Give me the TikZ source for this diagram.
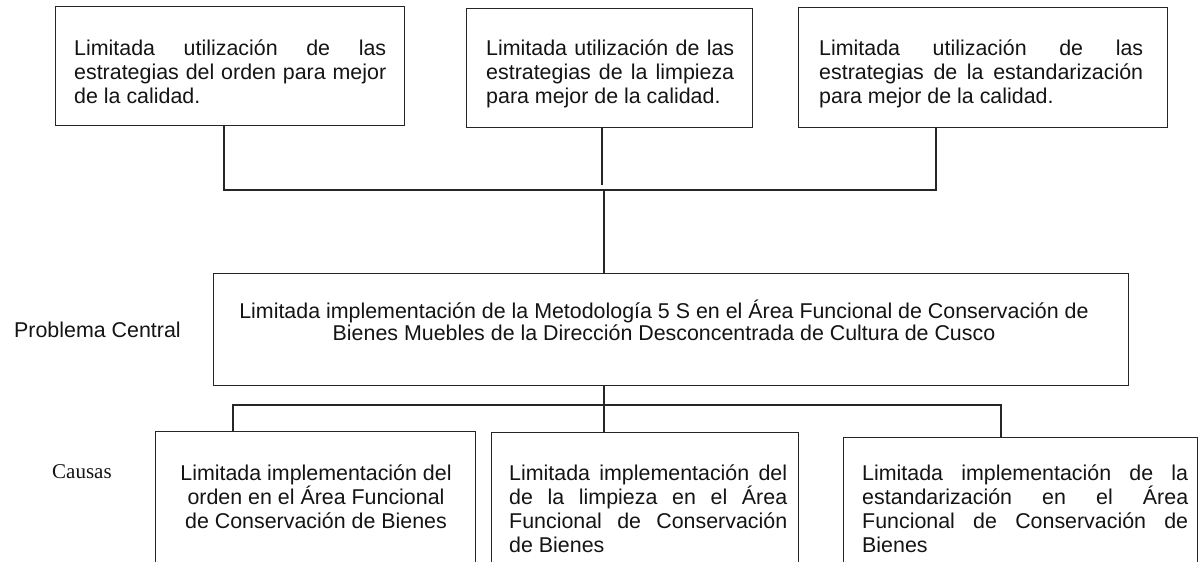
\documentclass[tikz,border=0pt]{standalone}
\usepackage{fontspec}
\setmainfont{Liberation Sans}
\newfontfamily\serifcausas{Liberation Serif}
\begin{document}
\hyphenpenalty=10000
\exhyphenpenalty=10000
\tolerance=10000
\begin{tikzpicture}[x=1pt,y=-1pt,
  boxnode/.style={draw=black!85, line width=0.9pt, inner sep=0pt, anchor=north west},
  conn/.style={draw=black!85, line width=1.3pt},
  txt/.style={inner sep=0pt, text=black!92, font=\fontsize{21.4}{24}\selectfont, align=justify},
  txtc/.style={inner sep=0pt, text=black!92, font=\fontsize{21.4}{20}\selectfont},
  txtb/.style={inner sep=0pt, text=black!92, font=\fontsize{21.4}{24}\selectfont}]
\useasboundingbox (0,0) rectangle (1199,562);
\clip (0,0) rectangle (1199,562);
\fill[white] (0,0) rectangle (1199,562);
% boxes
\node[boxnode, minimum width=349pt, minimum height=119pt] (t1) at (55,6) {};
\node[boxnode, minimum width=286pt, minimum height=119pt] (t2) at (466,8) {};
\node[boxnode, minimum width=369pt, minimum height=120pt] (t3) at (798,7) {};
\node[boxnode, minimum width=915pt, minimum height=112pt] (cb) at (213,273) {};
\node[boxnode, minimum width=320pt, minimum height=160pt] (b1) at (155,431) {};
\node[boxnode, minimum width=307pt, minimum height=160pt] (b2) at (491,432) {};
\node[boxnode, minimum width=354pt, minimum height=160pt] (b3) at (843,437) {};
% texts
\node[txt, text width=312pt, anchor=base west] (t1txt) at (74,55)
  {Limitada utilización de las\linebreak estrategias del orden para mejor\linebreak de la calidad.};
\node[txt, text width=248pt, anchor=base west] (t2txt) at (486,55)
  {Limitada utilización de las\linebreak estrategias de la limpieza\linebreak para mejor de la calidad.};
\node[txt, text width=324pt, anchor=base west] (t3txt) at (819,55)
  {Limitada utilización de las\linebreak estrategias de la estandarización\linebreak para mejor de la calidad.};
\node[txtc, align=center, anchor=base] (cbtxt) at (664,340)
  {Limitada implementación de la Metodología 5 S en el Área Funcional de Conservación de\\Bienes Muebles de la Dirección Desconcentrada de Cultura de Cusco};
\node[txtb, anchor=base west] (pc) at (14,337) {Problema Central};
\node[inner sep=0pt, text=black!92, font=\serifcausas\fontsize{21}{22}\selectfont, anchor=base west] (causas) at (52,478) {Causas};
\node[txtb, align=center, anchor=base] (b1txt) at (316,528)
  {Limitada implementación del\\orden en el Área Funcional\\de Conservación de Bienes};
\node[txtb, align=justify, text width=278pt, anchor=base west] (b2txt) at (509,480)
  {Limitada implementación del\linebreak de la limpieza en el Área\linebreak Funcional de Conservación\linebreak de Bienes};
\node[txtb, align=justify, text width=326pt, anchor=base west] (b3txt) at (862,480)
  {Limitada implementación de la\linebreak estandarización en el Área\linebreak Funcional de Conservación de\linebreak Bienes};
% connectors
\coordinate (hl) at (224,190);
\coordinate (hr) at (936,190);
\coordinate (t2e) at (602,185);
\coordinate (hc) at (604,190);
\coordinate (bl) at (233,405);
\coordinate (br) at (1001,405);
\draw[conn] (t1.south -| hl) -- (hl) -- (hr) -- (t3.south -| hr);
\draw[conn] (t2.south -| t2e) -- (t2e);
\draw[conn] (hc) -- (cb.north -| hc);
\draw[conn] (cb.south -| hc) -- (b2.north -| hc);
\draw[conn] (b1.north -| bl) -- (bl) -- (br) -- (b3.north -| br);
\end{tikzpicture}
\end{document}
